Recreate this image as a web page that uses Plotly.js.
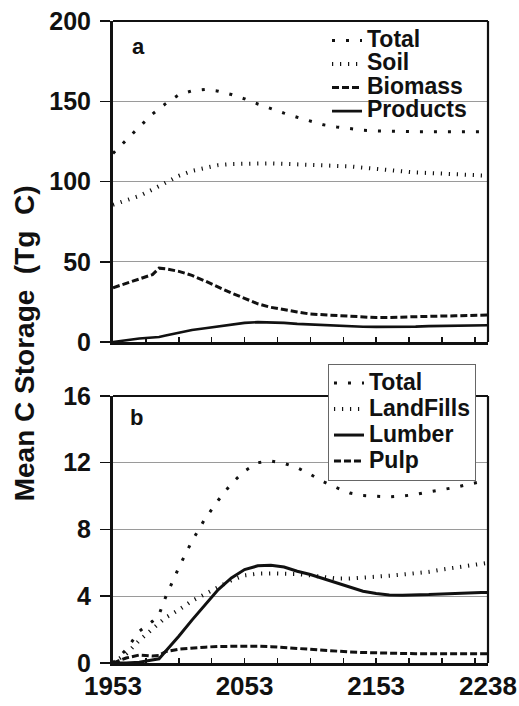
<!DOCTYPE html>
<html><head><meta charset="utf-8">
<script src="https://cdn.plot.ly/plotly-3.0.1.min.js"></script>
<style>html,body{margin:0;padding:0;background:#fff}#chart{width:519px;height:706px}</style>
</head><body><div id="chart"></div>
<script>
// ---- data ----
const years = [1953,1963,1973,1983,1988,1993,2003,2013,2023,2033,2043,2053,2063,2073,2083,2093,2103,2113,2123,2133,2143,2153,2163,2173,2183,2193,2203,2213,2223,2233,2238];

// panel a (Tg C)
const totalA    = [117.5,126,134,142,145.5,148.5,154,156.5,157.3,156.3,154.2,151.5,148.3,145.3,142.6,140,137.5,135.3,134,132.8,132,131.5,131.2,131,131,131,131,131,131,131,131];
const soilA     = [85.5,88,91,95,97,99.6,103.5,106.6,108.6,110.2,110.9,111.2,111.4,111.3,111,110.8,110.5,110.2,109.8,109.4,108.6,107.7,107,106.3,105.6,105.3,105,104.7,104.2,103.8,103.6];
const biomassA  = [33.8,36.4,39,42,46,45.6,44,41.5,38,34,30.5,27.2,23.8,21.6,20,18.7,17.4,16.9,16.5,15.9,15.3,15.2,15.3,15.6,15.8,16,16.2,16.3,16.5,16.7,16.8];
const productsA = [0,1.2,2.2,2.8,3.1,4,5.9,7.5,8.6,9.8,11,11.9,12.4,12.3,11.9,11.3,10.9,10.5,10.1,9.8,9.5,9.4,9.4,9.4,9.6,9.9,10.1,10.2,10.3,10.4,10.4];

// panel b (Tg C)
const totalB     = [0,0.8,1.9,2.5,2.9,3.95,5.72,7.3,8.65,9.75,10.75,11.5,12.0,12.1,11.96,11.7,11.3,10.86,10.5,10.18,10.03,9.97,9.95,10.0,10.1,10.25,10.38,10.52,10.7,10.88,10.95];
const landfillsB = [0,0.55,1.35,2.0,2.4,2.72,3.18,3.72,4.13,4.55,4.96,5.25,5.35,5.37,5.36,5.33,5.25,5.13,5.06,5.06,5.1,5.16,5.23,5.3,5.36,5.46,5.6,5.72,5.85,5.97,6.0];
const lumberB    = [0,0,0.05,0.2,0.25,0.7,1.6,2.57,3.5,4.4,5.1,5.6,5.82,5.86,5.75,5.5,5.3,5.04,4.78,4.52,4.3,4.16,4.08,4.06,4.07,4.1,4.14,4.18,4.2,4.22,4.22];
const pulpB      = [0,0.3,0.48,0.42,0.45,0.68,0.83,0.9,0.95,0.99,1.01,1.02,1.01,0.98,0.92,0.86,0.8,0.75,0.7,0.66,0.63,0.6,0.58,0.57,0.56,0.56,0.56,0.56,0.56,0.56,0.56];

const namesA = ['Total','Soil','Biomass','Products'];
const namesB = ['Total','LandFills','Lumber','Pulp'];

const xTickVals = [1953,1978,2003,2028,2053,2078,2103,2128,2153,2178,2203,2228,2238];
const xTickText = ['1953','','','','2053','','','','2153','','','','2238'];
const yTickValsA = [0,50,100,150,200];
const yTickValsB = [0,4,8,12,16];
const yTitle = 'Mean C Storage\u00a0 (Tg\u00a0 C)';

// ---- styles ----
const INK = '#111';
const FONT = '"Liberation Sans", Arial, sans-serif';
const styleTotal = {color: INK, width: 3, dash: '3px,11px'};
const styleSoil  = {color: INK, width: 4, dash: '1.2px,6.8px'};
const styleDash  = {color: INK, width: 3, dash: '7px,3px'};
const styleSolid = {color: INK, width: 2.6, dash: 'solid'};
const lname = n => '<span style="font-size:23px">' + n + '</span>';

const traces = [
  {x: years, y: totalA,    name: lname(namesA[0]), line: styleTotal, xaxis:'x',  yaxis:'y',  legend:'legend'},
  {x: years, y: soilA,     name: lname(namesA[1]), line: styleSoil,  xaxis:'x',  yaxis:'y',  legend:'legend'},
  {x: years, y: biomassA,  name: lname(namesA[2]), line: styleDash,  xaxis:'x',  yaxis:'y',  legend:'legend'},
  {x: years, y: productsA, name: lname(namesA[3]), line: styleSolid, xaxis:'x',  yaxis:'y',  legend:'legend'},
  {x: years, y: totalB,     name: lname(namesB[0]), line: styleTotal, xaxis:'x2', yaxis:'y2', legend:'legend2'},
  {x: years, y: landfillsB, name: lname(namesB[1]), line: styleSoil,  xaxis:'x2', yaxis:'y2', legend:'legend2'},
  {x: years, y: lumberB,    name: lname(namesB[2]), line: Object.assign({}, styleSolid, {width: 3}), xaxis:'x2', yaxis:'y2', legend:'legend2'},
  {x: years, y: pulpB,      name: lname(namesB[3]), line: styleDash,  xaxis:'x2', yaxis:'y2', legend:'legend2'}
].map(t => Object.assign({type: 'scatter', mode: 'lines', hoverinfo: 'skip'}, t));

const xBase = {
  range: [1953, 2238], tickmode: 'array', tickvals: xTickVals, ticktext: xTickText,
  ticks: 'inside', ticklen: 5, tickwidth: 1.5, tickcolor: INK,
  showline: true, linecolor: INK, linewidth: 3, showgrid: false, zeroline: false,
  tickfont: {family: FONT, size: 26, color: INK, weight: 700}
};
const yBase = {
  tickmode: 'array', ticks: 'outside', ticklen: 10, tickwidth: 1.5, tickcolor: INK,
  showline: true, linecolor: INK, linewidth: 3, showgrid: true, gridcolor: '#9a9a9a', gridwidth: 1,
  zeroline: false, ticklabelstandoff: 4,
  tickfont: {family: FONT, size: 25, color: INK, weight: 700}
};

const frame = (xr, yr) => [
  {type:'line', xref: xr + ' domain', yref: yr + ' domain', x0: 0, x1: 1, y0: 1, y1: 1, line: {color: INK, width: 2}},
  {type:'line', xref: xr + ' domain', yref: yr + ' domain', x0: 1, x1: 1, y0: 0, y1: 1, line: {color: INK, width: 2.2}}
];

const layout = {
  width: 519, height: 706,
  margin: {l: 113, r: 31, t: 21, b: 43},
  paper_bgcolor: '#fff', plot_bgcolor: '#fff',
  font: {family: FONT, color: INK},
  xaxis:  Object.assign({}, xBase, {anchor: 'y', domain: [0, 1], showticklabels: false}),
  xaxis2: Object.assign({}, xBase, {anchor: 'y2', domain: [0, 1], showticklabels: true, ticklabelstandoff: -2}),
  yaxis:  Object.assign({}, yBase, {anchor: 'x', domain: [0.5, 1], range: [0, 200], tickvals: yTickValsA}),
  yaxis2: Object.assign({}, yBase, {anchor: 'x2', domain: [0, 0.416], range: [0, 16], tickvals: yTickValsB}),
  legend: {
    x: 0.5707, y: 0.9958, xref: 'paper', yref: 'paper', xanchor: 'left', yanchor: 'top',
    bgcolor: 'rgba(0,0,0,0)', borderwidth: 0,
    font: {family: FONT, size: 15.8, color: INK, weight: 700}
  },
  legend2: {
    x: 0.5733, y: 0.4657, xref: 'paper', yref: 'paper', xanchor: 'left', yanchor: 'top',
    bgcolor: '#fff', bordercolor: '#666', borderwidth: 1,
    font: {family: FONT, size: 17.7, color: INK, weight: 700}
  },
  shapes: frame('x', 'y').concat(frame('x2', 'y2')),
  annotations: [
    {text: 'a', xref: 'x domain', yref: 'y domain', x: 0.045, y: 0.92, xanchor: 'left', yanchor: 'middle', showarrow: false,
     font: {family: FONT, size: 22, color: INK, weight: 700}},
    {text: 'b', xref: 'x2 domain', yref: 'y2 domain', x: 0.04, y: 0.92, xanchor: 'left', yanchor: 'middle', showarrow: false,
     font: {family: FONT, size: 22, color: INK, weight: 700}},
    {text: yTitle, xref: 'paper', yref: 'paper', x: -0.2373, y: 0.498, xanchor: 'center', yanchor: 'middle', textangle: -90,
     showarrow: false, font: {family: FONT, size: 28, color: INK, weight: 700}}
  ],
  showlegend: true
};

Plotly.newPlot('chart', traces, layout, {staticPlot: true, displayModeBar: false});
</script>
</body></html>
